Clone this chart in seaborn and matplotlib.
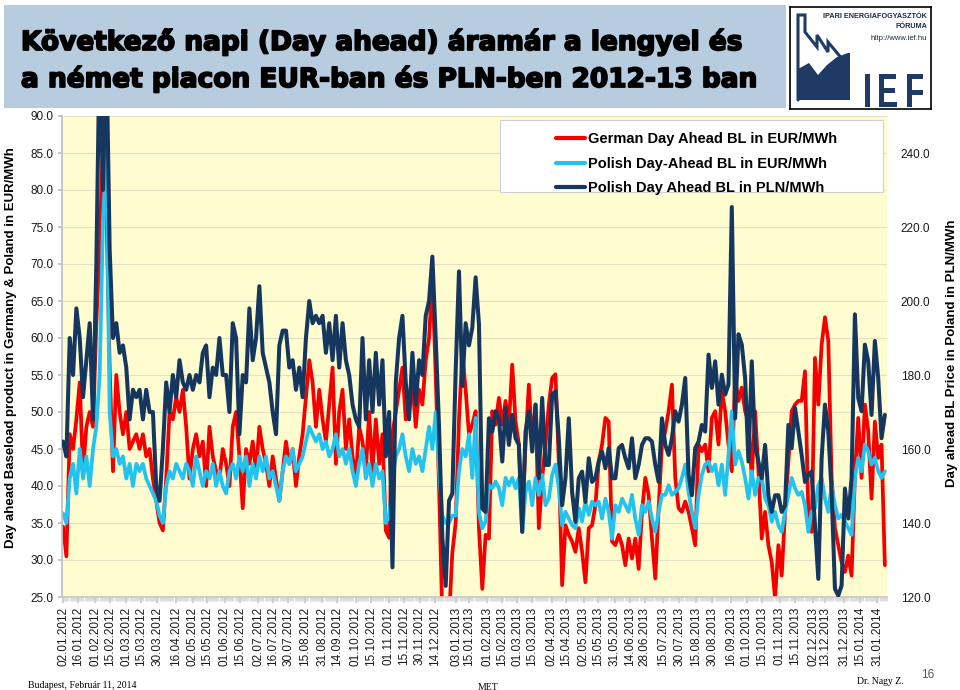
import numpy as np
import pandas as pd
import matplotlib
matplotlib.use('Agg')
import matplotlib.pyplot as plt
import matplotlib.dates as mdates
import matplotlib.patheffects as pe
from matplotlib.patches import Rectangle, Polygon, PathPatch
from matplotlib.textpath import TextPath
from matplotlib.font_manager import FontProperties
from matplotlib.transforms import Affine2D
import seaborn as sns

# readings, roughly every 3 days from 02.01.2012 to 07.02.2014
de_eur = [34.5, 30.5, 47, 45, 49, 54, 42, 48, 50, 48, 62, 72, 87, 78, 56, 42, 55, 50, 47, 50,
          45, 46, 47, 45, 47, 44, 45, 41, 38, 35, 34, 41, 50, 49, 52, 50, 53, 48, 41, 45,
          47, 44, 46, 40, 48, 44, 42, 41, 45, 43, 40, 48, 50, 44, 37, 45, 43, 46, 42, 48,
          45, 43, 40, 44, 41, 38, 42, 46, 43, 45, 40, 44, 47, 52, 57, 54, 48, 53, 49, 46,
          51, 56, 43, 50, 53, 45, 49, 44, 41, 48, 46, 42, 50, 42, 49, 43, 47, 34, 33, 47,
          50, 53, 56, 49, 50, 54, 48, 53, 51, 57, 60, 68, 55, 40, 22, 20, 22, 31, 35, 49,
          58, 53, 47,
          48.3, 50.1, 34.3, 26.1, 33.4, 32.9, 50.1, 48.3, 51.9, 48.3,
          51.5, 48.3, 56.4, 48.7, 45.6, 35.6, 45.6, 53.7, 45.6, 51.0,
          34.3, 41.1, 45.6, 51.0, 54.6, 55.1, 43.3, 26.6, 34.7, 33.4,
          32.5, 31.1, 34.3, 31.1, 27.0, 34.3, 34.7, 37.4, 43.3, 45.6,
          49.2, 48.7, 32.5, 32.0, 33.4, 32.0, 29.3, 32.9, 30.2, 32.9,
          28.8, 36.5, 41.1, 38.8, 32.9, 27.5, 37.0, 45.6, 47.4, 50.1,
          53.7, 41.1, 37.0, 36.5, 37.9, 36.5, 34.3, 32.0, 45.6, 44.7,
          45.6, 42.0, 49.2, 50.1, 45.6, 52.8, 50.1, 45.6, 42.0, 54.6,
          51.5, 53.3, 50.1, 48.7, 41.1, 50.1, 42.0, 32.9, 36.5, 32.0,
          29.7, 24.8, 32.0, 27.9, 36.5, 43.3, 50.1, 51.0, 51.5, 51.5,
          55.5, 36.5, 33.8, 57.3, 51.0, 59.1, 62.8, 59.6, 41.1, 34.3,
          32.0, 29.7, 28.4, 30.6, 27.9, 41.5, 49.2, 41.1, 51.0, 47.4,
          38.3, 48.7, 43.8, 45.6, 29.3]

pl_eur = [36.3, 35, 41, 43, 39, 45, 41, 44, 40, 45, 48, 55, 76, 85, 50, 44, 45, 43, 44, 41,
          43, 40, 43, 42, 43, 41, 40, 39, 38, 36, 35, 40, 42, 41, 43, 42, 41, 43, 42, 40,
          44, 42, 40, 42, 41, 43, 40, 42, 40, 39, 42, 43, 41, 44, 42, 44, 40, 43, 41, 44,
          42, 44, 41, 42, 40, 38, 42, 44, 43, 45, 42, 43, 44, 46, 48, 47, 46, 47, 45, 46,
          44, 45, 47, 44, 45, 43, 45, 42, 40, 43, 45, 41, 43, 40, 43, 41, 42, 35, 36, 41,
          44, 45, 47, 44, 42, 45, 43, 44, 42, 45, 48, 45, 50, 42, 36, 35, 35, 36, 36, 42,
          45, 44, 47,
          41.1, 49.2, 36.5, 34.3, 35.2, 40.1, 39.7, 40.6, 39.7, 37.4,
          41.1, 40.1, 41.1, 39.7, 41.1, 33.8, 39.2, 40.6, 37.4, 41.1,
          38.8, 41.5, 37.4, 38.3, 41.5, 42.9, 39.7, 34.7, 36.5, 35.6,
          34.7, 34.3, 37.0, 35.2, 37.9, 36.1, 37.9, 37.4, 37.9, 35.6,
          38.3, 36.5, 32.9, 37.4, 36.5, 38.3, 37.4, 36.5, 38.8, 35.6,
          33.4, 37.4, 36.5, 37.9, 35.6, 33.8, 36.5, 38.8, 38.8, 40.1,
          38.8, 39.2, 39.7, 41.1, 42.9, 39.2, 36.5, 34.3, 38.8, 41.5,
          42.9, 43.3, 42.0, 42.9, 40.1, 42.9, 38.8, 44.2, 50.1, 42.9,
          44.7, 43.3, 41.1, 38.3, 42.0, 38.8, 41.1, 41.1, 38.3, 37.4,
          35.2, 36.5, 34.7, 33.8, 36.5, 38.8, 41.1, 39.7, 38.8, 39.2,
          37.4, 33.8, 36.5, 37.0, 40.1, 41.1, 38.3, 36.5, 40.1, 37.4,
          35.6, 36.1, 35.2, 34.3, 33.4, 41.1, 43.8, 42.0, 45.6, 44.7,
          42.9, 43.8, 42.0, 41.1, 42.0]

pl_pln = [162, 158, 190, 180, 198, 190, 174, 184, 194, 168, 210, 270, 230, 270, 214, 190, 194, 186, 188, 182,
          168, 176, 174, 176, 168, 176, 170, 170, 150, 146, 160, 178, 170, 180, 174, 184, 178, 176, 180, 176,
          180, 178, 186, 188, 174, 182, 180, 190, 180, 180, 170, 194, 190, 164, 180, 178, 198, 184, 190, 204,
          186, 182, 178, 170, 164, 188, 192, 192, 182, 184, 176, 182, 174, 190, 200, 194, 196, 194, 196, 186,
          194, 184, 196, 182, 194, 184, 180, 172, 168, 166, 190, 168, 184, 170, 186, 172, 184, 158, 170, 128,
          178, 190, 196, 178, 168, 186, 172, 184, 180, 196, 200, 212, 190, 166, 136, 123, 146, 148, 181, 208,
          177, 194, 188,
          192.8, 206.4, 193.7, 143.9, 143.0, 168.3, 164.7, 170.2, 168.3, 156.6,
          171.1, 161.1, 169.2, 162.9, 161.1, 137.6, 164.7, 170.2, 159.3, 172.0,
          152.1, 173.8, 155.7, 155.7, 174.7, 175.6, 162.9, 144.8, 152.1, 168.3,
          148.4, 140.3, 152.1, 153.9, 145.7, 157.5, 151.1, 152.1, 156.6, 159.3,
          154.8, 160.2, 152.1, 152.1, 160.2, 161.1, 157.5, 154.8, 162.9, 152.1,
          155.7, 161.1, 162.9, 162.9, 162.0, 155.7, 151.1, 168.3, 161.1, 158.4,
          162.9, 170.2, 167.4, 172.0, 179.2, 153.0, 147.5, 160.2, 162.0, 166.5,
          164.7, 185.5, 176.5, 183.7, 172.0, 180.1, 174.7, 177.4, 225.4, 168.3,
          191.0, 188.2, 179.2, 156.6, 183.7, 161.1, 156.6, 152.1, 161.1, 147.5,
          143.0, 147.5, 147.5, 143.0, 144.8, 166.5, 160.2, 171.1, 164.7, 158.4,
          151.1, 153.0, 153.9, 139.4, 124.9, 157.5, 172.0, 164.7, 148.4, 122.2,
          120.4, 123.1, 149.3, 141.2, 152.1, 196.4, 173.8, 170.2, 188.2, 183.7,
          169.2, 189.2, 179.2, 162.9, 169.2]

tick_labels = ['02.01.2012', '16.01.2012', '01.02.2012', '15.02.2012', '01.03.2012', '15.03.2012',
               '30.03.2012', '16.04.2012', '02.05.2012', '15.05.2012', '01.06.2012', '15.06.2012',
               '02.07.2012', '16.07.2012', '30.07.2012', '15.08.2012', '31.08.2012', '14.09.2012',
               '01.10.2012', '15.10.2012', '01.11.2012', '15.11.2012', '30.11.2012', '14.12.2012',
               '03.01.2013', '15.01.2013', '01.02.2013', '15.02.2013', '01.03.2013', '15.03.2013',
               '02.04.2013', '15.04.2013', '02.05.2013', '15.05.2013', '31.05.2013', '14.06.2013',
               '28.06.2013', '15.07.2013', '30.07.2013', '15.08.2013', '30.08.2013', '16.09.2013',
               '01.10.2013', '15.10.2013', '01.11.2013', '15.11.2013', '02.12.2013', '13.12.2013',
               '31.12.2013', '15.01.2014', '31.01.2014']

labels = ['German Day Ahead BL in EUR/MWh', 'Polish Day-Ahead BL in EUR/MWh',
          'Polish Day Ahead BL in PLN/MWh']

df = pd.DataFrame({
    'date': pd.date_range('2012-01-02', '2014-02-07', periods=len(de_eur)),
    'de_eur': de_eur,
    'pl_eur': pl_eur,
    'pl_pln': pl_pln,
})

sns.set_theme(style='white')
plt.rcParams['font.family'] = ['Liberation Sans', 'DejaVu Sans']
plt.rcParams['text.color'] = 'black'

W, H = 960, 690
fig = plt.figure(figsize=(9.6, 6.9), dpi=100)
fig.patch.set_facecolor('white')

# title band
fig.add_artist(Rectangle((4 / W, 1 - 108 / H), 782 / W, 103 / H, transform=fig.transFigure,
                         facecolor='#B8CCE0', edgecolor='none', zorder=0))
heavy = [pe.withStroke(linewidth=1.3, foreground='black')]
fig.text(21 / W, 1 - 42 / H, 'Következő napi (Day ahead) áramár a lengyel és',
         fontsize=19, fontweight='bold', family='DejaVu Sans', va='center', ha='left',
         color='black', path_effects=heavy)
fig.text(21 / W, 1 - 79 / H, 'a német piacon EUR-ban és PLN-ben 2012-13 ban',
         fontsize=19, fontweight='bold', family='DejaVu Sans', va='center', ha='left',
         color='black', path_effects=heavy)

# main axes
ax = fig.add_axes([62 / W, 1 - 597 / H, 825 / W, 481 / H])
ax.set_facecolor('#FFFDD0')

red = '#F50000'
cyan = '#22C3F0'
navy = '#14365F'

sns.lineplot(data=df, x='date', y='de_eur', ax=ax, color=red, linewidth=2.7, label=labels[0], legend=False)
sns.lineplot(data=df, x='date', y='pl_eur', ax=ax, color=cyan, linewidth=2.7, label=labels[1], legend=False)

ax2 = ax.twinx()
sns.lineplot(data=df, x='date', y='pl_pln', ax=ax2, color=navy, linewidth=2.9, label=labels[2], legend=False)

ax.set_ylim(25, 90)
ax.set_yticks(np.arange(25, 91, 5))
ax.set_yticklabels([f'{v:.1f}' for v in np.arange(25, 91, 5)])
ax2.set_ylim(120, 250)
ax2.set_yticks(np.arange(120, 241, 20))
ax2.set_yticklabels([f'{v:.1f}' for v in np.arange(120, 241, 20)])

ax.set_xlim(pd.Timestamp('2012-01-01'), pd.Timestamp('2014-02-09'))
ax.set_xticks(pd.to_datetime(tick_labels, format='%d.%m.%Y'))
ax.set_xticklabels(tick_labels, rotation=90)
ax.xaxis.set_minor_locator(mdates.DayLocator())

ax.yaxis.grid(True, color='#E2E0C2', linewidth=0.8)
ax.set_axisbelow(True)
for a in (ax, ax2):
    a.set_xlabel('')
    a.set_ylabel('')
    for s in a.spines.values():
        s.set_visible(False)
ax.spines['left'].set_visible(True)
ax.spines['left'].set_color('#C0C0C0')
ax.spines['bottom'].set_visible(True)
ax.spines['bottom'].set_color('#C8C8C8')

ax.tick_params(axis='y', labelsize=8.5, labelcolor='#1A1A1A', length=3, color='#C0C0C0', left=True, pad=3)
ax.tick_params(axis='x', which='major', labelsize=8.5, labelcolor='#1A1A1A', length=4, color='#C8C8C8', bottom=True, pad=3)
ax.tick_params(axis='x', which='minor', length=3, color='#CFCFCF', width=0.5, bottom=True)
ax2.tick_params(axis='y', labelsize=8.5, labelcolor='#1A1A1A', length=0, pad=10)

# legend box
ax2.add_patch(Rectangle((0.531, 0.842), 0.464, 0.150, transform=ax2.transAxes,
                        facecolor='white', edgecolor='#D0D0D0', linewidth=0.8, zorder=8))
handles = ax.get_lines()[:2] + ax2.get_lines()[:1]
leg = ax2.legend(handles, labels, loc='upper left', bbox_to_anchor=(0.585, 0.99), frameon=False,
                 prop={'weight': 'bold', 'size': 10.5}, handlelength=2.0, handletextpad=0.2,
                 labelspacing=0.72, borderpad=0.3, labelcolor='black')
leg.set_zorder(9)
for line in leg.get_lines():
    line.set_linewidth(3)

# axis titles
fig.text(11 / W, 1 - 348 / H, 'Day ahead Baseload product in Germany & Poland in EUR/MWh',
         rotation=90, fontsize=9.5, fontweight='bold', ha='center', va='center')
fig.text(952 / W, 1 - 353 / H, 'Day ahead BL Price in Poland in PLN/MWh',
         rotation=90, fontsize=9.5, fontweight='bold', ha='center', va='center')

# logo
logo_blue = '#1F3A64'
lax = fig.add_axes([790 / W, 1 - 109 / H, 141 / W, 102 / H])
lax.set_xlim(0, 141)
lax.set_ylim(102, 0)
lax.set_xticks([])
lax.set_yticks([])
lax.set_facecolor('white')
for s in lax.spines.values():
    s.set_color('black')
    s.set_linewidth(1.2)
lax.plot([8, 8, 15, 15, 27, 27, 38, 38, 53], [93, 8, 8, 25, 40, 28, 45, 35, 53],
         color=logo_blue, linewidth=2.2, solid_joinstyle='miter')
lax.add_patch(Polygon([(8, 93), (8, 62), (19, 56), (28, 68), (37, 58), (47, 50), (58, 46), (60, 46), (60, 93)],
                      closed=True, facecolor=logo_blue, edgecolor='none'))
fp = FontProperties(family='Liberation Sans', weight='bold')
for x0, ch in zip([73, 87, 115], ['I', 'E', 'F']):
    tp = TextPath((0, 0), ch, size=48, prop=fp)
    tp = Affine2D().scale(0.66, -1.0).translate(x0, 100).transform_path(tp)
    lax.add_patch(PathPatch(tp, facecolor=logo_blue, edgecolor='none'))
lax.text(137, 9, 'IPARI ENERGIAFOGYASZTÓK', fontsize=5.2, fontweight='bold', ha='right', va='center', color='#1A2A40')
lax.text(137, 20, 'FÓRUMA', fontsize=5.2, fontweight='bold', ha='right', va='center', color='#1A2A40')
lax.text(137, 31, 'http://www.ief.hu', fontsize=5.5, ha='right', va='center', color='#1A2A40')

# footer
fig.text(28 / W, 1 - 685 / H, 'Budapest, Február 11, 2014', fontsize=7, family='Liberation Serif', va='center')
fig.text(478 / W, 1 - 687 / H, 'MET', fontsize=7, family='Liberation Serif', va='center')
fig.text(857 / W, 1 - 682 / H, 'Dr. Nagy Z.', fontsize=7, family='Liberation Serif', va='center')
fig.text(928 / W, 1 - 675 / H, '16', fontsize=8.5, color='#555555', ha='center', va='center')

fig.savefig('out.png', dpi=100)
